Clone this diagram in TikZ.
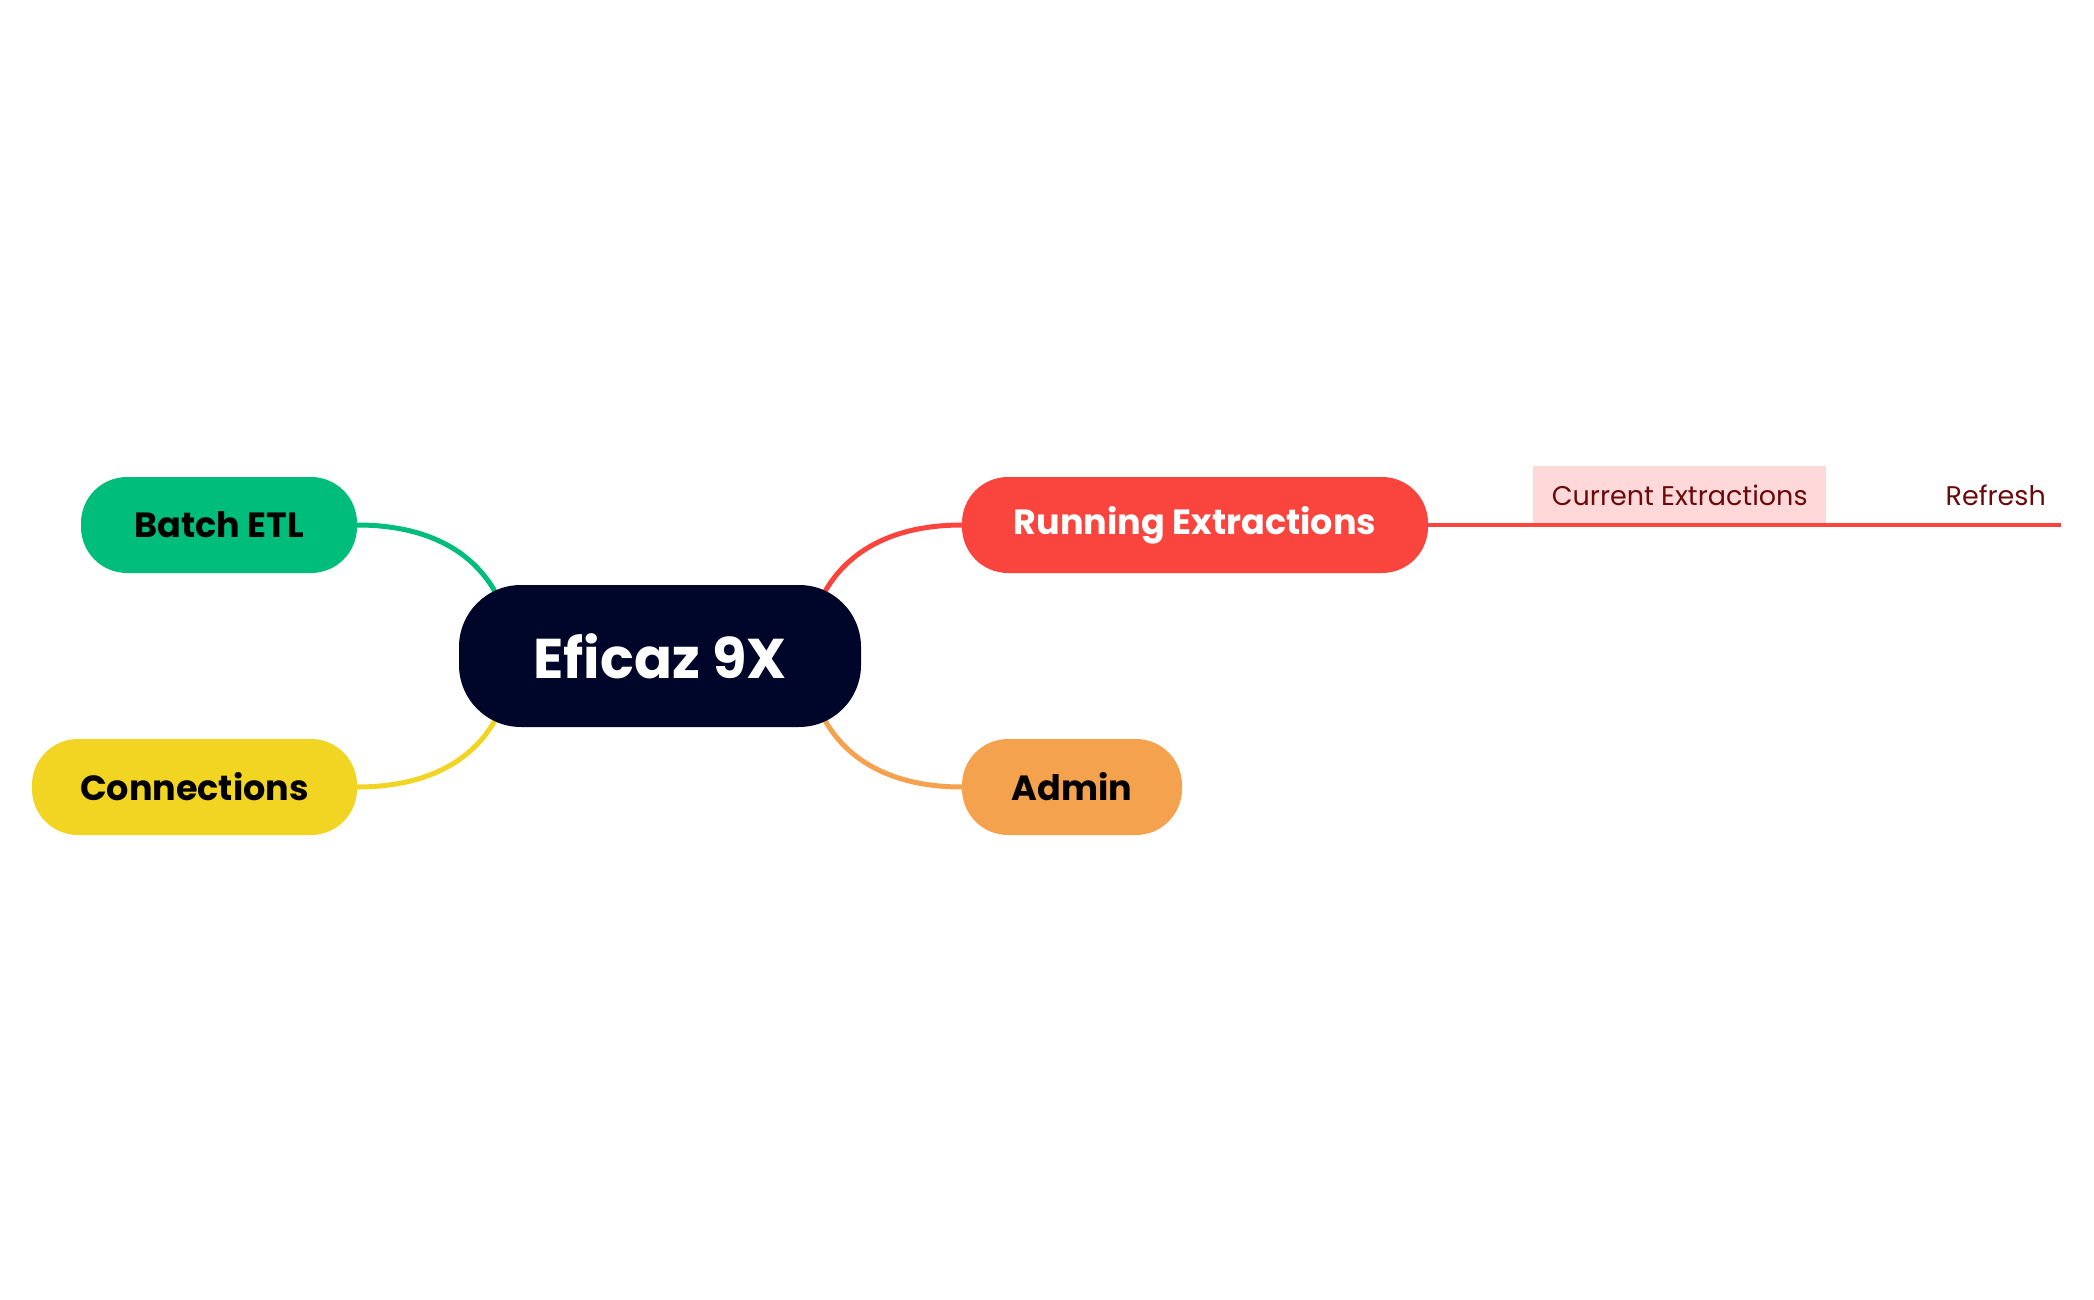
\documentclass[tikz,border=0pt]{standalone}
\usepackage{fontspec}
\setmainfont{Poppins}
\usetikzlibrary{calc}
\pgfdeclarelayer{bg}
\pgfsetlayers{bg,main}
\definecolor{cnavy}{HTML}{00052A}
\definecolor{cgreen}{HTML}{00BD7B}
\definecolor{cyellow}{HTML}{F2D422}
\definecolor{cred}{HTML}{F9453E}
\definecolor{corange}{HTML}{F5A24E}
\definecolor{cpink}{HTML}{FFD9D9}
\definecolor{cdark}{HTML}{6A0A0A}
\begin{document}
\begin{tikzpicture}[x=1pt,y=-1pt,
  rootbox/.style={fill=cnavy, text=white, rounded corners=62pt, minimum width=402pt, minimum height=142pt, inner sep=0pt, font=\fontsize{56}{60}\selectfont\bfseries},
  topicbox/.style={rounded corners=46pt, minimum height=96pt, inner sep=0pt, font=\fontsize{35}{40}\selectfont\bfseries},
  subbox/.style={minimum height=59pt, inner sep=0pt, anchor=south west, text=cdark, font=\fontsize{27}{30}\selectfont},
  link/.style={line width=5pt},
  subline/.style={line width=4pt, draw=cred}
]
\useasboundingbox (0,0) rectangle (2094,1300);
\node[rootbox] (c) at (660,656) {Eficaz 9X};
\node[topicbox, fill=cgreen, text=black, minimum width=276pt] (b) at (219,525) {Batch ETL};
\node[topicbox, fill=cyellow, text=black, minimum width=325pt] (cn) at (194.5,787) {Connections};
\node[topicbox, fill=cred, text=white, minimum width=466pt] (r) at (1195,525) {Running Extractions};
\node[topicbox, fill=corange, text=black, minimum width=220pt] (a) at (1072,787) {Admin};
\node[subbox, fill=cpink, minimum width=293pt] (ce) at (1533,525) {Current Extractions};
\node[subbox, minimum width=131pt] (rf) at (1930,525) {Refresh};
\coordinate (cnw) at ($(c.north west)+(38,10)$);
\coordinate (csw) at ($(c.south west)+(38,-10)$);
\coordinate (cne) at ($(c.north east)+(-38,10)$);
\coordinate (cse) at ($(c.south east)+(-38,-10)$);
\begin{pgfonlayer}{bg}
\draw[link, draw=cgreen] (cnw) .. controls ($(cnw)+(-24,-45)$) and ($(b.east)+(68,0)$) .. (b.east);
\draw[link, draw=cyellow] (csw) .. controls ($(csw)+(-24,45)$) and ($(cn.east)+(68,0)$) .. (cn.east);
\draw[link, draw=cred] (cne) .. controls ($(cne)+(24,-45)$) and ($(r.west)+(-67,0)$) .. (r.west);
\draw[link, draw=corange] (cse) .. controls ($(cse)+(24,45)$) and ($(a.west)+(-67,0)$) .. (a.west);
\end{pgfonlayer}
\draw[subline] (r.east) -- (ce.south west) -- (ce.south east) -- (rf.south west) -- (rf.south east);
\end{tikzpicture}
\end{document}
